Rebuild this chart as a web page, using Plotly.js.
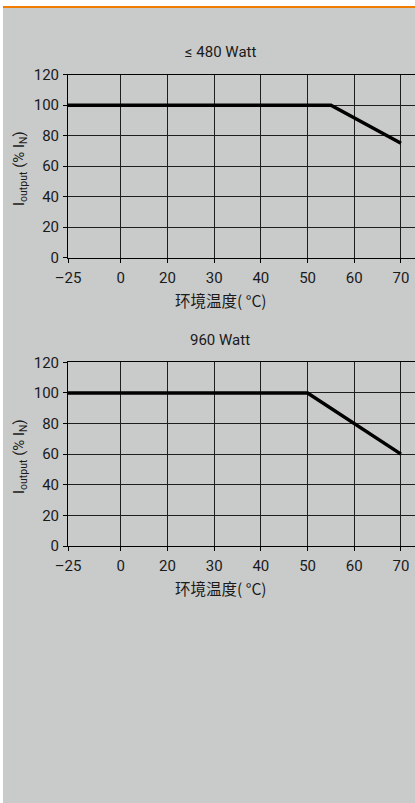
<!DOCTYPE html>
<html>
<head>
<meta charset="utf-8">
<script src="https://cdn.plot.ly/plotly-3.0.1.min.js"></script>
<style>html,body{margin:0;padding:0;background:#fff;}#chart{width:415px;height:803px;}</style>
</head>
<body>
<div id="chart"></div>
<script>
// ---- data ----
const xTickTemps = [-25, 0, 20, 30, 40, 50, 60, 70];
const xTickLabels = ['–25', '0', '20', '30', '40', '50', '60', '70'];
const yTickVals = [0, 20, 40, 60, 80, 100, 120];
const chartTitles = ['≤ 480 Watt', '960 Watt'];
const xTitle = '环境温度( °C)';
const yTitle = 'I<sub>output</sub> (% I<sub>N</sub>)';
const temp480 = [-25, 55, 70];
const load480 = [100, 100, 75];
const temp960 = [-25, 50, 70];
const load960 = [100, 100, 60];

// ---- broken-axis mapping (first interval wider, then one step per tick) ----
const W = 415, H = 803;
const stepPos = xTickTemps.map((t, i) => i === 0 ? 0 : 1.13 + (i - 1));
function warp(t) {
  for (let i = 0; i < xTickTemps.length - 1; i++) {
    const a = xTickTemps[i], b = xTickTemps[i + 1];
    if (t >= a && t <= b) return stepPos[i] + (t - a) / (b - a) * (stepPos[i + 1] - stepPos[i]);
  }
  return stepPos[stepPos.length - 1];
}
const px = v => v / W;
const py = v => 1 - v / H;

const FONT = "Roboto, sans-serif";
const CJK = "'Noto Sans CJK SC', sans-serif";
const GRID = '#1e1e1e';
const TXT = '#1a1a1a';

function xAxis(dom) {
  return {
    domain: dom, range: [0, 7.43], tickvals: stepPos, ticktext: xTickLabels,
    showgrid: true, gridcolor: GRID, gridwidth: 1, zeroline: false,
    showline: true, linecolor: '#000', linewidth: 1, mirror: true,
    ticks: 'outside', ticklen: 4, tickcolor: '#000', tickwidth: 1,
    tickfont: {family: FONT, size: 15, color: TXT}, ticklabelstandoff: 2, fixedrange: true
  };
}
function yAxis(dom) {
  return {
    domain: dom, range: [0, 120], tickvals: yTickVals,
    showgrid: true, gridcolor: GRID, gridwidth: 1, zeroline: false,
    showline: true, linecolor: '#000', linewidth: 1,
    ticks: 'outside', ticklen: 4, tickcolor: '#000', tickwidth: 1,
    tickfont: {family: FONT, size: 15, color: TXT}, ticklabelstandoff: 1, fixedrange: true
  };
}

const traces = [
  {x: temp480.map(warp), y: load480, xaxis: 'x', yaxis: 'y', mode: 'lines',
   line: {color: '#000', width: 3.5}, hoverinfo: 'skip', cliponaxis: false},
  {x: temp960.map(warp), y: load960, xaxis: 'x2', yaxis: 'y2', mode: 'lines',
   line: {color: '#000', width: 3.5}, hoverinfo: 'skip', cliponaxis: false}
];

const ann = (text, x, y, opts) => Object.assign({
  text: text, xref: 'paper', yref: 'paper', x: px(x), y: py(y),
  xanchor: 'center', yanchor: 'middle', showarrow: false, borderpad: 0,
  font: {family: FONT, size: 15, color: TXT}
}, opts || {});

const layout = {
  width: W, height: H, margin: {l: 0, r: 0, t: 0, b: 0},
  paper_bgcolor: '#c9cbca', plot_bgcolor: '#c9cbca', showlegend: false,
  font: {family: FONT, size: 15, color: TXT},
  xaxis: xAxis([px(68), 1]), yaxis: yAxis([py(257.7), py(74.7)]),
  xaxis2: Object.assign(xAxis([px(68), 1]), {anchor: 'y2'}),
  yaxis2: Object.assign(yAxis([py(546), py(362.3)]), {anchor: 'x2'}),
  annotations: [
    ann(chartTitles[0], 220, 52),
    ann(chartTitles[1], 220, 340),
    ann(xTitle, 221, 300, {font: {family: CJK, size: 15.5, color: TXT}}),
    ann(xTitle, 221, 588, {font: {family: CJK, size: 15.5, color: TXT}}),
    ann(yTitle, 20, 169, {textangle: -90, font: {family: FONT, size: 15, color: TXT}}),
    ann(yTitle, 20, 457, {textangle: -90, font: {family: FONT, size: 15, color: TXT}})
  ],
  shapes: [
    {type: 'rect', xref: 'paper', yref: 'paper', x0: 0, x1: 1, y0: py(6), y1: 1, fillcolor: '#ffffff', line: {width: 0}, layer: 'above'},
    {type: 'rect', xref: 'paper', yref: 'paper', x0: 0, x1: px(3), y0: 0, y1: 1, fillcolor: '#ffffff', line: {width: 0}, layer: 'above'},
    {type: 'rect', xref: 'paper', yref: 'paper', x0: px(3), x1: 1, y0: py(8), y1: py(6), fillcolor: '#f07c00', line: {width: 0}, layer: 'above'}
  ]
};

Plotly.newPlot('chart', traces, layout, {displayModeBar: false, staticPlot: true});
</script>
</body>
</html>
